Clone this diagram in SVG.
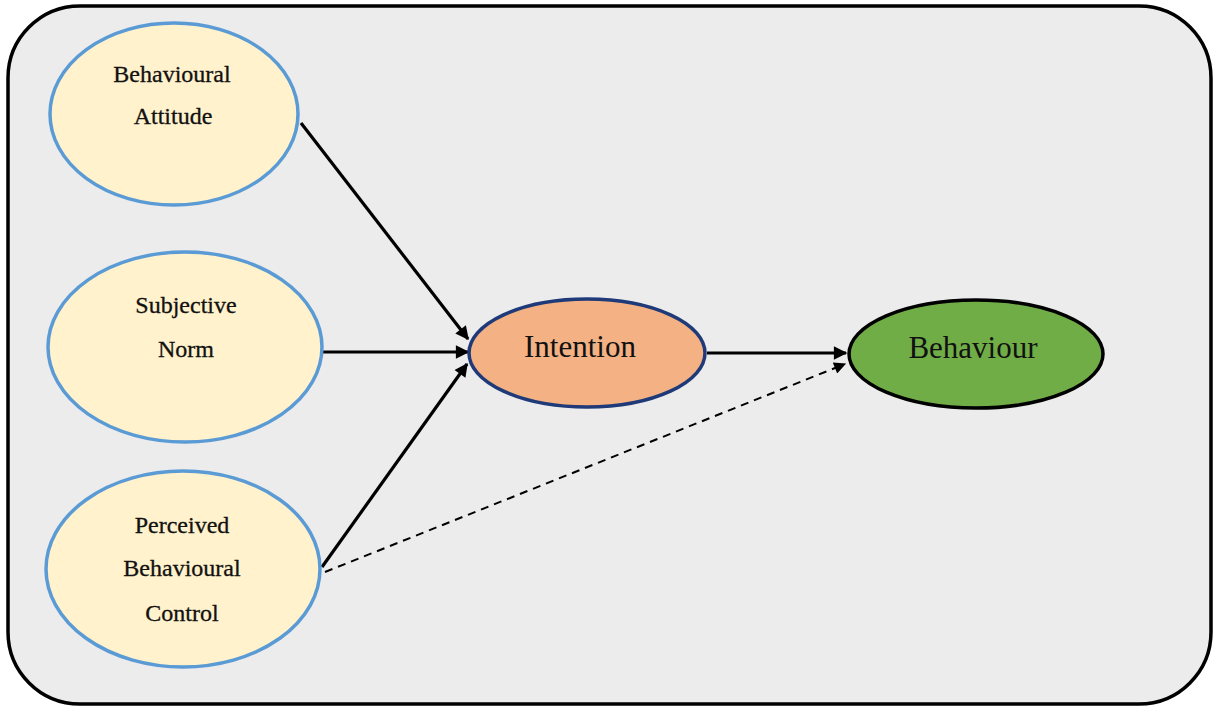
<svg xmlns="http://www.w3.org/2000/svg" width="1214" height="709" viewBox="0 0 1214 709">
<style>
.bg{fill:#ffffff}
.frame{fill:#ececec;stroke:#000;stroke-width:3.5}
.in{fill:#fff2cc;stroke:#5b9bd5;stroke-width:3.5}
.t{font-family:"Liberation Serif","Times New Roman",serif;font-size:24px;fill:#111;stroke:#111;stroke-width:0.3;text-anchor:middle}
.tb{font-family:"Liberation Serif","Times New Roman",serif;font-size:31px;fill:#111;text-anchor:middle}
.c{stroke:#000;stroke-width:3.2;fill:none;marker-end:url(#ah)}
.d{stroke:#000;stroke-width:2;fill:none;stroke-dasharray:8 6;marker-end:url(#ahs)}
</style>
<defs>
<marker id="ah" viewBox="0 0 10 10" refX="9" refY="5" markerWidth="5.5" markerHeight="4.2" orient="auto" markerUnits="strokeWidth">
<path d="M0,0 L10,5 L0,10 z" fill="#000"/>
</marker>
<marker id="ahs" viewBox="0 0 10 10" refX="9" refY="5" markerWidth="7.5" markerHeight="6" orient="auto" markerUnits="strokeWidth">
<path d="M0,0 L10,5 L0,10 z" fill="#000"/>
</marker>
</defs>
<rect class="bg" x="0" y="0" width="1214" height="709"/>
<rect class="frame" x="8" y="6" width="1203" height="698" rx="72" ry="72"/>
<g id="connectors">
<line class="c" x1="301" y1="123" x2="468" y2="339"/>
<line class="c" x1="322" y1="352" x2="468" y2="352"/>
<line class="c" x1="322" y1="567" x2="467" y2="364"/>
<line class="c" x1="707" y1="353" x2="846" y2="353"/>
<line class="d" x1="325" y1="572" x2="845" y2="364"/>
</g>
<g id="attitude">
<ellipse class="in" cx="174" cy="114" rx="124" ry="91"/>
<text class="t" x="172" y="82">Behavioural</text>
<text class="t" x="173" y="124">Attitude</text>
</g>
<g id="norm">
<ellipse class="in" cx="185" cy="347" rx="137" ry="95"/>
<text class="t" x="186" y="313">Subjective</text>
<text class="t" x="186" y="357">Norm</text>
</g>
<g id="control">
<ellipse class="in" cx="183" cy="569" rx="137" ry="98"/>
<text class="t" x="182" y="533">Perceived</text>
<text class="t" x="182" y="576">Behavioural</text>
<text class="t" x="182" y="621">Control</text>
</g>
<g id="intention">
<ellipse cx="587" cy="353" rx="118" ry="54" fill="#f4b183" stroke="#1f3a78" stroke-width="3.5"/>
<text class="tb" x="580" y="357">Intention</text>
</g>
<g id="behaviour">
<ellipse cx="976" cy="354" rx="127" ry="54" fill="#70ad47" stroke="#000" stroke-width="3.5"/>
<text class="tb" x="973" y="358">Behaviour</text>
</g>
</svg>
